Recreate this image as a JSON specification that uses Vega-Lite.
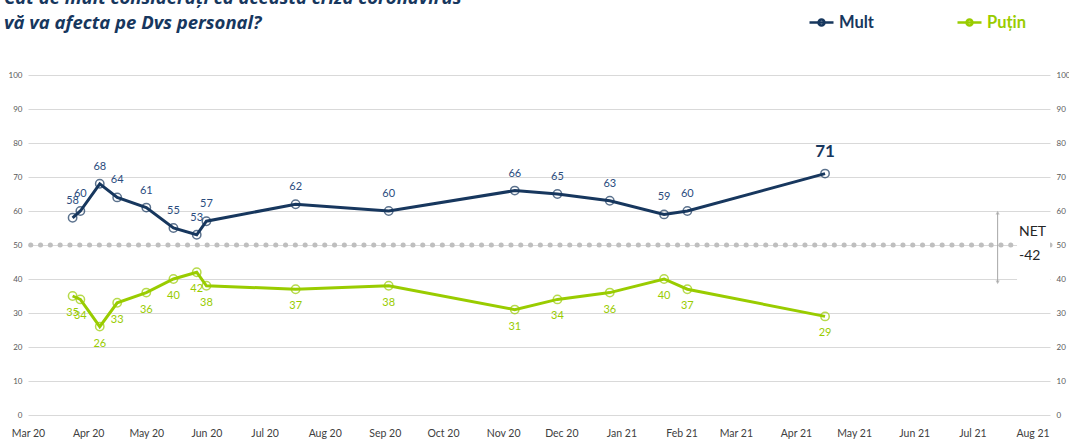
{
  "$schema": "https://vega.github.io/schema/vega-lite/v6.json",
  "width": 1022,
  "height": 340,
  "autosize": {"type": "none"},
  "padding": {"left": 28, "top": 75, "right": 19, "bottom": 25},
  "background": "white",
  "config": {
    "view": {"stroke": null},
    "font": "Lato",
    "text": {"font": "Lato"}
  },
  "title": {
    "text": ["Cât de mult considerați că această criză coronavirus", "vă va afecta pe Dvs personal?"],
    "anchor": "start",
    "frame": "group",
    "dx": -24,
    "offset": 0,
    "dy": 23,
    "font": "Open Sans",
    "fontSize": 18.5,
    "fontWeight": "bold",
    "fontStyle": "italic",
    "color": "#17375E",
    "lineHeight": 25
  },
  "datasets": {
    "series": [
      {"date": "2020-03-24", "series": "Mult", "value": 58},
      {"date": "2020-03-28", "series": "Mult", "value": 60},
      {"date": "2020-04-07", "series": "Mult", "value": 68},
      {"date": "2020-04-16", "series": "Mult", "value": 64},
      {"date": "2020-05-01", "series": "Mult", "value": 61},
      {"date": "2020-05-15", "series": "Mult", "value": 55},
      {"date": "2020-05-27", "series": "Mult", "value": 53},
      {"date": "2020-06-01", "series": "Mult", "value": 57},
      {"date": "2020-07-17", "series": "Mult", "value": 62},
      {"date": "2020-09-03", "series": "Mult", "value": 60},
      {"date": "2020-11-07", "series": "Mult", "value": 66},
      {"date": "2020-11-29", "series": "Mult", "value": 65},
      {"date": "2020-12-26", "series": "Mult", "value": 63},
      {"date": "2021-01-23", "series": "Mult", "value": 59},
      {"date": "2021-02-04", "series": "Mult", "value": 60},
      {"date": "2021-04-16", "series": "Mult", "value": 71},
      {"date": "2020-03-24", "series": "Puțin", "value": 35},
      {"date": "2020-03-28", "series": "Puțin", "value": 34},
      {"date": "2020-04-07", "series": "Puțin", "value": 26},
      {"date": "2020-04-16", "series": "Puțin", "value": 33},
      {"date": "2020-05-01", "series": "Puțin", "value": 36},
      {"date": "2020-05-15", "series": "Puțin", "value": 40},
      {"date": "2020-05-27", "series": "Puțin", "value": 42},
      {"date": "2020-06-01", "series": "Puțin", "value": 38},
      {"date": "2020-07-17", "series": "Puțin", "value": 37},
      {"date": "2020-09-03", "series": "Puțin", "value": 38},
      {"date": "2020-11-07", "series": "Puțin", "value": 31},
      {"date": "2020-11-29", "series": "Puțin", "value": 34},
      {"date": "2020-12-26", "series": "Puțin", "value": 36},
      {"date": "2021-01-23", "series": "Puțin", "value": 40},
      {"date": "2021-02-04", "series": "Puțin", "value": 37},
      {"date": "2021-04-16", "series": "Puțin", "value": 29}
    ],
    "ref": [{"value": 50}],
    "box": [{"start": "2021-07-24", "end": "2021-08-10", "low": 37.5, "high": 57}],
    "arrow": [{"date": "2021-07-14", "low": 39, "high": 59.5}],
    "net": [{"date": "2021-07-25", "value": 53.8, "label": "NET\n-42"}]
  },
  "resolve": {"axis": {"y": "independent"}},
  "layer": [
    {
      "data": {"name": "ref"},
      "mark": {"type": "rule", "color": "#bfbfbf", "strokeWidth": 5, "strokeDash": [0.1, 9.7], "strokeCap": "round"},
      "encoding": {
        "y": {"field": "value", "type": "quantitative", "scale": {"domain": [0, 100], "nice": false},
          "axis": {"orient": "left", "values": [0,10,20,30,40,50,60,70,80,90,100], "grid": true, "gridColor": "#d9d9d9", "gridWidth": 1,
            "domain": false, "ticks": false, "labelPadding": 6, "labelFontSize": 8, "labelColor": "#595959", "labelFont": "Lato", "title": null}}
      }
    },
    {
      "data": {"name": "box"},
      "mark": {"type": "rect", "color": "white"},
      "encoding": {
        "x": {"field": "start", "type": "temporal", "scale": {"type": "utc", "domain": ["2020-03-01", "2021-08-10"], "nice": false},
          "axis": {"orient": "bottom", "format": "%b %y", "tickCount": {"interval": "month", "step": 1}, "grid": false, "domain": false, "ticks": false,
            "labelPadding": 13, "labelFontSize": 10.5, "labelColor": "#404040", "labelFont": "Lato", "labelFlush": false, "labelOverlap": false, "title": null}},
        "x2": {"field": "end"},
        "y": {"field": "low", "type": "quantitative", "axis": {"orient": "right", "values": [0,10,20,30,40,50,60,70,80,90,100], "grid": false,
            "domain": false, "ticks": false, "labelPadding": 6, "labelFontSize": 8, "labelColor": "#595959", "labelFont": "Lato", "title": null}},
        "y2": {"field": "high"}
      }
    },
    {
      "data": {"name": "series"},
      "mark": {"type": "line", "strokeWidth": 3},
      "encoding": {
        "x": {"field": "date", "type": "temporal"},
        "y": {"field": "value", "type": "quantitative", "axis": null},
        "color": {"field": "series", "type": "nominal",
          "scale": {"domain": ["Mult", "Puțin"], "range": ["#17375E", "#99CC00"]},
          "legend": {
            "orient": "none", "legendX": 780, "legendY": -66, "direction": "horizontal", "title": null,
            "symbolType": "M-1,0H1M0.25,0A0.25,0.25 0 1 1 -0.25,0A0.25,0.25 0 1 1 0.25,0",
            "symbolSize": 576, "symbolStrokeWidth": 2.5, "symbolFillColor": "transparent",
            "labelFont": "Lato", "labelFontSize": 16.5, "labelFontWeight": "bold", "labelOffset": 4, "columnPadding": 78, "padding": 0,
            "encode": {"labels": {"update": {"fill": {"scale": "color", "field": "value"}}}}
          }
        }
      }
    },
    {
      "data": {"name": "series"},
      "mark": {"type": "point", "shape": "circle", "size": 70, "filled": false, "strokeWidth": 1.5},
      "encoding": {
        "x": {"field": "date", "type": "temporal"},
        "y": {"field": "value", "type": "quantitative", "axis": null},
        "color": {"field": "series", "type": "nominal", "legend": null}
      }
    },
    {
      "data": {"name": "series"},
      "transform": [{"filter": "datum.series === 'Mult' && datum.value !== 71"}],
      "mark": {"type": "text", "dy": -17, "fontSize": 11, "font": "Lato", "color": "#2B4C7E"},
      "encoding": {
        "x": {"field": "date", "type": "temporal"},
        "y": {"field": "value", "type": "quantitative", "axis": null},
        "text": {"field": "value", "type": "quantitative", "format": "d"}
      }
    },
    {
      "data": {"name": "series"},
      "transform": [{"filter": "datum.series === 'Mult' && datum.value === 71"}],
      "mark": {"type": "text", "dy": -22, "fontSize": 17, "fontWeight": "bold", "font": "Lato", "color": "#17375E"},
      "encoding": {
        "x": {"field": "date", "type": "temporal"},
        "y": {"field": "value", "type": "quantitative", "axis": null},
        "text": {"field": "value", "type": "quantitative", "format": "d"}
      }
    },
    {
      "data": {"name": "series"},
      "transform": [{"filter": "datum.series === 'Puțin'"}],
      "mark": {"type": "text", "dy": 17, "fontSize": 11, "font": "Lato", "color": "#99CC00"},
      "encoding": {
        "x": {"field": "date", "type": "temporal"},
        "y": {"field": "value", "type": "quantitative", "axis": null},
        "text": {"field": "value", "type": "quantitative", "format": "d"}
      }
    },
    {
      "data": {"name": "arrow"},
      "mark": {"type": "rule", "color": "#a6a6a6", "strokeWidth": 1},
      "encoding": {
        "x": {"field": "date", "type": "temporal"},
        "y": {"field": "low", "type": "quantitative", "axis": null},
        "y2": {"field": "high"}
      }
    },
    {
      "data": {"name": "arrow"},
      "mark": {"type": "point", "shape": "triangle-up", "size": 18, "filled": true, "color": "#a6a6a6"},
      "encoding": {
        "x": {"field": "date", "type": "temporal"},
        "y": {"field": "high", "type": "quantitative", "axis": null}
      }
    },
    {
      "data": {"name": "arrow"},
      "mark": {"type": "point", "shape": "triangle-down", "size": 18, "filled": true, "color": "#a6a6a6"},
      "encoding": {
        "x": {"field": "date", "type": "temporal"},
        "y": {"field": "low", "type": "quantitative", "axis": null}
      }
    },
    {
      "data": {"name": "net"},
      "mark": {"type": "text", "align": "left", "baseline": "middle", "fontSize": 14, "font": "Lato", "color": "#262626", "lineBreak": "\n", "lineHeight": 24},
      "encoding": {
        "x": {"field": "date", "type": "temporal"},
        "y": {"field": "value", "type": "quantitative", "axis": null},
        "text": {"field": "label"}
      }
    }
  ]
}
